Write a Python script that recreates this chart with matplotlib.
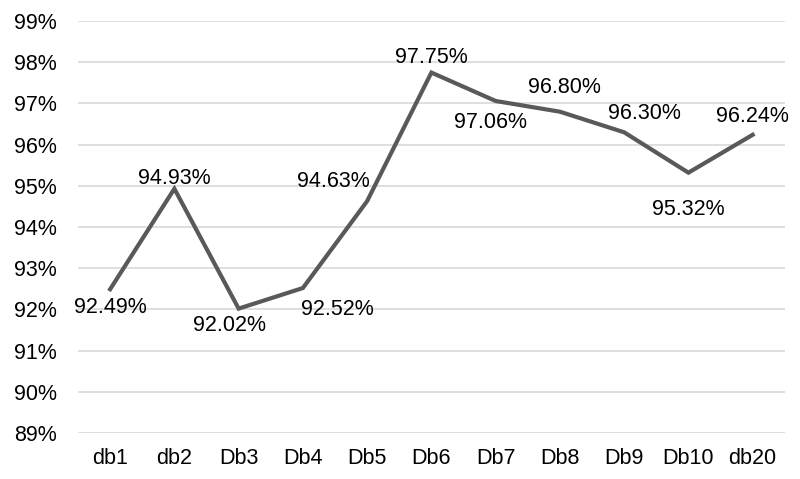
import matplotlib.pyplot as plt
from matplotlib.ticker import FuncFormatter

plt.rcParams['font.family'] = ['Liberation Sans', 'DejaVu Sans']

# data
kategori = ['db1', 'db2', 'Db3', 'Db4', 'Db5', 'Db6', 'Db7', 'Db8', 'Db9', 'Db10', 'db20']
akurasi = [92.49, 94.93, 92.02, 92.52, 94.63, 97.75, 97.06, 96.80, 96.30, 95.32, 96.24]
label_teks = ['92.49%', '94.93%', '92.02%', '92.52%', '94.63%', '97.75%',
              '97.06%', '96.80%', '96.30%', '95.32%', '96.24%']

# geser posisi label (pixel) supaya mirip grafik asli
geser = [(0, -18), (0, 10), (-9, -17), (34, -21), (-34, 20), (0, 15),
         (-5, -22), (5, 24), (20, 19), (0, -37), (0, 18)]

fig = plt.figure(figsize=(8, 4.79), dpi=100)
ax = fig.add_axes([0.0975, 0.096, 0.8835, 0.86])

x = range(len(kategori))
ax.plot(x, akurasi, color='#595959', linewidth=3, solid_joinstyle='miter')

for i, (v, t) in enumerate(zip(akurasi, label_teks)):
    ax.annotate(t, (i, v), xytext=geser[i], textcoords='offset pixels',
                ha='center', va='center', fontsize=15.5, color='#000000')

ax.set_xlim(-0.5, len(kategori) - 0.5)
ax.set_ylim(89, 99)
ax.set_yticks(range(89, 100))
ax.yaxis.set_major_formatter(FuncFormatter(lambda v, p: f'{v:.0f}%'))
ax.set_xticks(list(x))
ax.set_xticklabels(kategori)
ax.tick_params(axis='both', length=0, labelsize=15.5, colors='#000000')
ax.tick_params(axis='y', pad=15)
ax.tick_params(axis='x', pad=11)

ax.grid(axis='y', color='#d9d9d9', linewidth=1.2)
ax.set_axisbelow(True)
for s in ax.spines.values():
    s.set_visible(False)

fig.savefig('out.png', dpi=100)
